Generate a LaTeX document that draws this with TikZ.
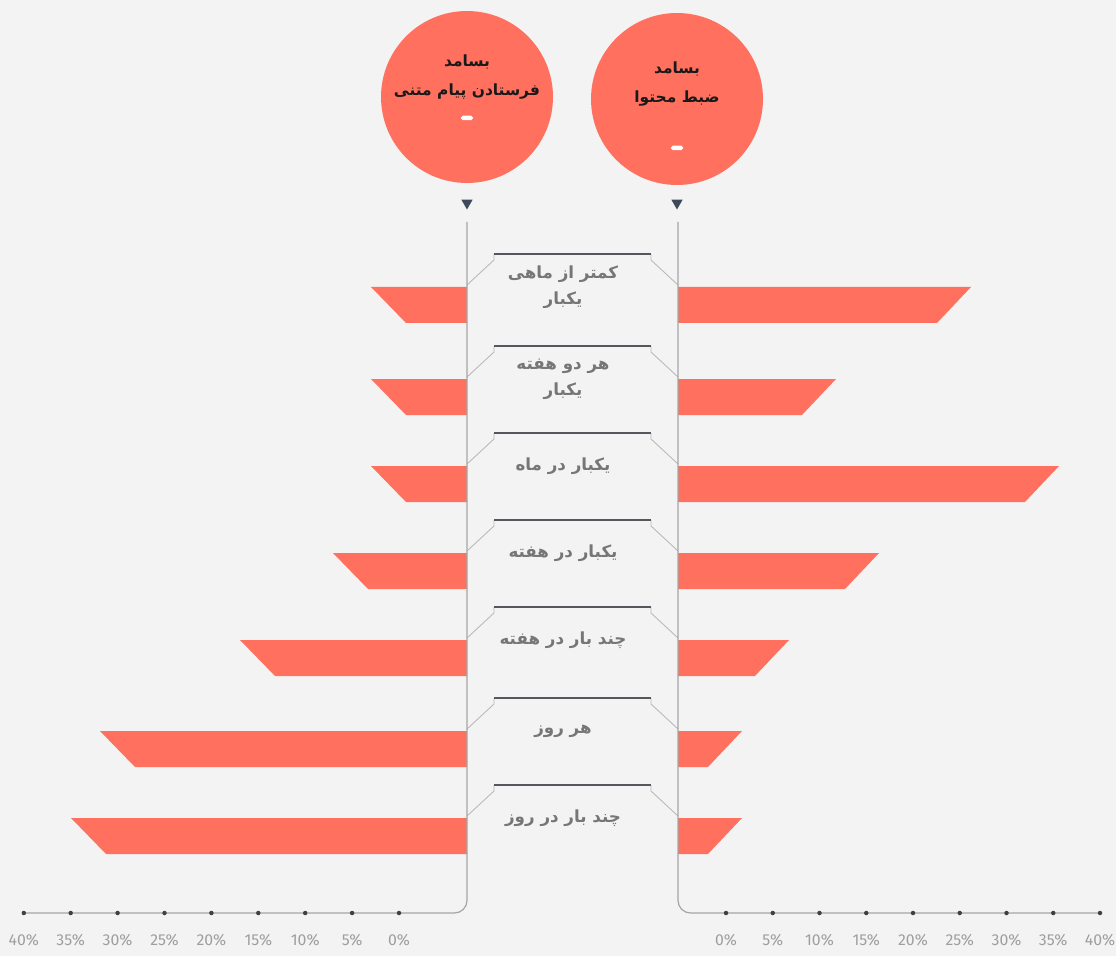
\documentclass[tikz,border=0pt]{standalone}
\usepackage{fontspec}
\usepackage{xcolor}
\usepackage{tikz}
\usetikzlibrary{shapes.geometric, positioning, calc}
\setmainfont{Fira Sans}
\newfontfamily\farsi[Script=Arabic]{DejaVu Sans}
\TeXXeTstate=1
\definecolor{paper}{RGB}{243,243,243}
\definecolor{coral}{RGB}{255,112,94}
\definecolor{framegray}{RGB}{185,185,185}
\definecolor{darkline}{RGB}{85,87,92}
\definecolor{labelgray}{RGB}{118,118,118}
\definecolor{slate}{RGB}{62,74,90}
\newcommand{\rtl}[1]{\beginR #1\endR}

\tikzset{
  bubble/.style={circle, fill=coral, minimum size=3.44cm, inner sep=0pt},
  bubbletext/.style={font=\farsi\bfseries\fontsize{8.8}{16}\selectfont, text=black!90, align=center},
  dashmark/.style={fill=white, rounded corners=1pt, minimum width=0.24cm, minimum height=0.09cm, inner sep=0pt},
  pointer/.style={regular polygon, regular polygon sides=3, shape border rotate=180,
                  fill=slate, minimum size=0.26cm, inner sep=0pt},
  bar/.style={fill=coral},
  framing/.style={draw=framegray, line width=0.5pt},
  topbar/.style={draw=darkline, line width=1.5pt},
  rowtext/.style={font=\farsi\bfseries\fontsize{9.5}{15}\selectfont, text=labelgray, align=center},
  axisline/.style={draw=framegray!90!black, line width=0.7pt, rounded corners=0.25cm},
  tickdot/.style={circle, fill=black!75, minimum size=0.09cm, inner sep=0pt},
  ticklabel/.style={font=\fontsize{9}{10}\selectfont, text=black!38}
}

\begin{document}
\begin{tikzpicture}[x=0.02cm, y=-0.02cm]
    \fill[paper] (0,0) rectangle (1116,956);
    \useasboundingbox (0,0) rectangle (1116,956);

    % header bubbles
    \node[bubble] (sendc) at (467,97) {};
    \node[bubble] (recc) at (677,99) {};
    \node[bubbletext] (sendt) at (467,77) {\rtl{بسامد}\\\rtl{فرستادن پیام متنی}};
    \node[bubbletext] (rect) at (677,84) {\rtl{بسامد}\\\rtl{ضبط محتوا}};
    \node[dashmark] (senddash) at (467,118) {};
    \node[dashmark] (recdash) at (677,148) {};
    \node[pointer] (sendtip) at (467,203) {};
    \node[pointer] (rectip) at (677,203) {};

    % bars and row labels
    \foreach \yy/\lx/\rx/\txt [count=\k] in {
        287/371/971/{\rtl{کمتر از ماهی}\\\rtl{یکبار}},
        379/371/836/{\rtl{هر دو هفته}\\\rtl{یکبار}},
        466/371/1059/{\rtl{یکبار در ماه}},
        553/333/879/{\rtl{یکبار در هفته}},
        640/240/789/{\rtl{چند بار در هفته}},
        731/100/742/{\rtl{هر روز}},
        818/71/742/{\rtl{چند بار در روز}}} {
        \fill[bar] (\lx,\yy) -- (467,\yy) -- (467,\yy+36) -- (\lx+35,\yy+36) -- cycle;
        \fill[bar] (678,\yy) -- (\rx,\yy) -- (\rx-34,\yy+36) -- (678,\yy+36) -- cycle;
        \draw[framing] (467,\yy-2) -- (494,\yy-27) -- (494,\yy-33);
        \draw[framing] (651,\yy-33) -- (651,\yy-27) -- (678,\yy-2);
        \draw[topbar] (494,\yy-33) -- (651,\yy-33);
        \node[rowtext] (lbl\k) at (563,\yy) {\txt};
    }

    % axes
    \coordinate (lefttop) at (467,222);
    \coordinate (righttop) at (678,222);
    \draw[axisline] (24,913) -- (467,913) -- (lefttop);
    \draw[axisline] (1100,913) -- (678,913) -- (righttop);
    \foreach \i in {0,...,8} {
        \pgfmathtruncatemacro{\pc}{5*\i}
        \node[tickdot] (ldot\i) at (399-46.9*\i,913) {};
        \node[tickdot] (rdot\i) at (726+46.75*\i,913) {};
        \node[ticklabel] (ltick\i) at (399-46.9*\i,940) {\pc\%};
        \node[ticklabel] (rtick\i) at (726+46.75*\i,940) {\pc\%};
    }
\end{tikzpicture}
\end{document}
